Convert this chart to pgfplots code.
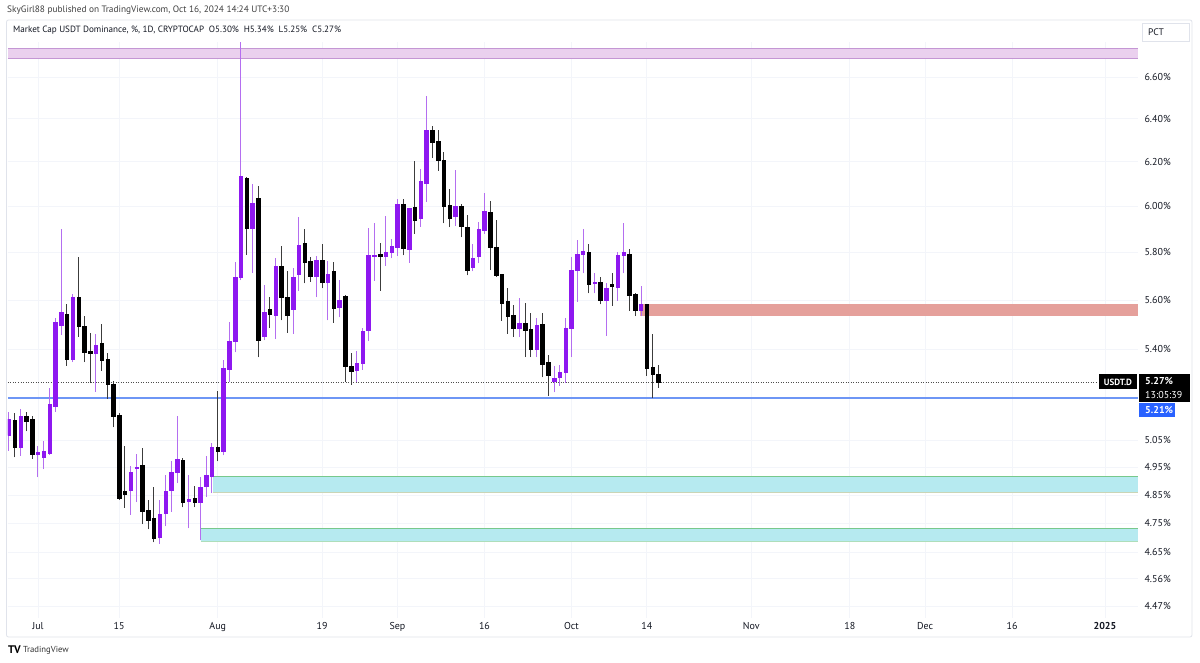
\documentclass[border=0pt]{standalone}
\usepackage{pgfplots}
\pgfplotsset{compat=1.18}
\usepackage{pgfplotstable}
\usepackage{fontspec}
\setmainfont{PT Sans}
\definecolor{candlepurple}{RGB}{142,24,240}
\definecolor{wickpurple}{RGB}{180,110,240}
\definecolor{candleblack}{RGB}{0,0,0}
\definecolor{wickblack}{RGB}{60,60,60}
\definecolor{tickc}{RGB}{19,23,34}
\definecolor{gridc}{RGB}{243,245,250}
\definecolor{zonepink}{RGB}{234,208,238}
\definecolor{zonepinkline}{RGB}{196,150,212}
\definecolor{zonered}{RGB}{229,160,155}
\definecolor{zonecyan}{RGB}{182,234,240}
\definecolor{zonecyanline}{RGB}{120,200,140}
\definecolor{tvblue}{RGB}{41,98,255}
\definecolor{lineblue}{RGB}{110,150,245}
\definecolor{panelc}{RGB}{224,227,235}

\pgfplotstableread{
d O H L C
-5 5.068 5.155 5.011 5.129
-4 5.126 5.151 4.987 5.026
-3 5.026 5.167 4.993 5.142
-2 5.142 5.155 5.083 5.120
-1 5.130 5.142 4.981 4.999
0 4.999 5.030 4.915 5.004
1 4.989 5.047 4.944 5.011
2 5.002 5.248 4.996 5.187
3 5.179 5.527 5.158 5.509
4 5.495 5.901 5.458 5.550
5 5.543 5.582 5.336 5.362
6 5.362 5.624 5.349 5.612
7 5.612 5.779 5.451 5.491
8 5.491 5.534 5.349 5.389
9 5.394 5.465 5.267 5.386
10 5.385 5.461 5.234 5.418
11 5.425 5.502 5.316 5.358
12 5.362 5.387 5.206 5.261
13 5.264 5.277 5.098 5.141
14 5.145 5.151 4.833 4.839
15 4.863 5.029 4.805 4.854
16 4.866 4.957 4.780 4.933
17 4.946 4.998 4.825 4.951
18 4.957 5.023 4.748 4.794
19 4.798 4.833 4.729 4.760
20 4.769 4.879 4.684 4.698
21 4.702 4.833 4.679 4.783
22 4.784 4.923 4.740 4.863
23 4.867 4.972 4.792 4.934
24 4.933 5.141 4.893 4.981
25 4.975 4.984 4.807 4.823
26 4.827 4.921 4.733 4.836
27 4.839 4.883 4.807 4.823
28 4.823 4.917 4.691 4.879
29 4.881 4.993 4.845 4.921
30 4.919 5.039 4.857 5.024
31 5.026 5.237 4.972 5.008
32 5.011 5.358 4.994 5.326
33 5.323 5.510 5.272 5.434
34 5.434 5.757 5.388 5.694
35 5.693 6.770 5.683 6.136
36 6.126 6.130 5.789 5.906
37 5.906 6.099 5.714 6.013
38 6.036 6.092 5.368 5.438
39 5.452 5.662 5.436 5.550
40 5.562 5.611 5.487 5.541
41 5.538 5.778 5.441 5.742
42 5.742 5.827 5.516 5.610
43 5.611 5.722 5.467 5.538
44 5.563 5.732 5.462 5.694
45 5.707 5.952 5.639 5.832
46 5.839 5.900 5.669 5.757
47 5.764 5.779 5.676 5.697
48 5.698 5.785 5.612 5.768
49 5.768 5.836 5.648 5.672
50 5.674 5.762 5.516 5.707
51 5.721 5.761 5.507 5.566
52 5.570 5.683 5.529 5.600
53 5.614 5.621 5.273 5.334
54 5.332 5.385 5.261 5.315
55 5.319 5.395 5.271 5.345
56 5.345 5.485 5.319 5.474
57 5.478 5.906 5.433 5.786
58 5.784 5.928 5.681 5.788
59 5.794 5.840 5.638 5.782
60 5.785 5.958 5.742 5.802
61 5.800 5.856 5.775 5.827
62 5.824 6.033 5.785 6.009
63 6.008 6.033 5.787 5.817
64 5.813 5.995 5.755 5.993
65 5.994 6.204 5.881 5.940
66 5.949 6.166 5.911 6.110
67 6.103 6.508 6.020 6.344
68 6.344 6.366 6.217 6.292
69 6.293 6.346 6.160 6.209
70 6.209 6.244 5.926 6.002
71 6.006 6.076 5.909 5.946
72 5.955 6.162 5.914 5.999
73 5.999 6.011 5.865 5.911
74 5.910 5.962 5.703 5.725
75 5.735 5.835 5.719 5.775
76 5.782 5.931 5.754 5.901
77 5.897 6.058 5.881 5.978
78 5.974 6.024 5.725 5.820
79 5.822 5.940 5.696 5.701
80 5.708 5.710 5.515 5.586
81 5.596 5.649 5.462 5.534
82 5.538 5.579 5.451 5.485
83 5.485 5.607 5.449 5.505
84 5.505 5.586 5.369 5.475
85 5.481 5.545 5.369 5.402
86 5.402 5.527 5.369 5.498
87 5.502 5.548 5.289 5.342
88 5.347 5.378 5.218 5.296
89 5.273 5.336 5.232 5.287
90 5.289 5.339 5.257 5.308
91 5.308 5.525 5.269 5.485
92 5.485 5.780 5.369 5.725
93 5.725 5.853 5.593 5.793
94 5.793 5.900 5.711 5.803
95 5.800 5.835 5.628 5.666
96 5.670 5.714 5.628 5.673
97 5.673 5.697 5.582 5.600
98 5.597 5.669 5.454 5.649
99 5.666 5.711 5.576 5.658
100 5.653 5.803 5.597 5.786
101 5.786 5.926 5.711 5.800
102 5.793 5.813 5.556 5.621
103 5.624 5.628 5.534 5.556
104 5.556 5.658 5.534 5.583
105 5.583 5.585 5.296 5.326
106 5.330 5.462 5.209 5.300
107 5.300 5.340 5.250 5.270
}\candles

\begin{document}
\begin{tikzpicture}
\useasboundingbox (0pt,0pt) rectangle (1200pt,663pt);
\fill[white] (0pt,0pt) rectangle (1200pt,663pt);
\draw[panelc, line width=0.8pt, rounded corners=2pt] (6.5pt,26pt) rectangle (1192pt,643pt);
\node[anchor=west, inner sep=0pt, text=black!75, font=\fontsize{9.3}{11}\selectfont] at (7pt,653pt) {SkyGirl88 published on TradingView.com, Oct 16, 2024 14:24 UTC+3:30};
\node[anchor=west, inner sep=0pt, text=tickc, font=\fontsize{9.1}{11}\selectfont] at (13pt,633pt) {Market Cap USDT Dominance, \%, 1D, CRYPTOCAP\ \ O5.30\%\ \ H5.34\%\ \ L5.25\%\ \ C5.27\%};
\draw[panelc, fill=white] (1142pt,622pt) rectangle (1189pt,640pt);
\node[anchor=west, inner sep=0pt, text=tickc, font=\fontsize{9.5}{11}\selectfont] at (1148pt,631pt) {PCT};
\node[anchor=west, inner sep=0pt, text=black, font=\fontsize{11}{12}\selectfont\bfseries] at (8pt,13pt) {TV};
\node[anchor=west, inner sep=0pt, text=black!80, font=\fontsize{8.7}{10}\selectfont] at (23pt,13pt) {TradingView};

\pgfplotstablegetrowsof{\candles}
\pgfmathtruncatemacro{\lastrow}{\pgfplotsretval-1}

\begin{axis}[
  at={(8pt,45pt)}, anchor=south west,
  scale only axis, width=1130pt, height=576pt,
  xmin=-5.17, xmax=189.7,
  ymode=log, ymin=4.4306, ymax=6.7724,
  axis line style={draw=none},
  major tick length=0pt,
  minor tick num=0,
  xtick={0,14,31,49,62,77,92,105,123,140,153,168,184},
  xticklabels={Jul,15,Aug,19,Sep,16,Oct,14,Nov,18,Dec,16,\textbf{2025}},
  ytick={4.47,4.56,4.65,4.75,4.85,4.95,5.05,5.40,5.60,5.80,6.00,6.20,6.40,6.60},
  yticklabels={4.47\%,4.56\%,4.65\%,4.75\%,4.85\%,4.95\%,5.05\%,5.40\%,5.60\%,5.80\%,6.00\%,6.20\%,6.40\%,6.60\%},
  yticklabel pos=right,
  xmajorgrids, ymajorgrids,
  major grid style={draw=gridc, line width=0.8pt},
  tick label style={font=\fontsize{10}{12}\selectfont, text=tickc},
  yticklabel style={anchor=west, xshift=3pt},
  xticklabel style={anchor=north, yshift=-1pt},
]
% zones
\addplot[forget plot, fill=zonepink, draw=none] coordinates {(-5.17,6.692) (189.7,6.692) (189.7,6.741) (-5.17,6.741)} -- cycle;
\addplot[forget plot, draw=zonepinkline, line width=0.8pt] coordinates {(-5.17,6.692) (189.7,6.692)};
\addplot[forget plot, draw=zonepinkline, line width=0.8pt] coordinates {(-5.17,6.741) (189.7,6.741)};
\addplot[forget plot, fill=zonered, draw=none] coordinates {(103.9,5.535) (189.7,5.535) (189.7,5.583) (103.9,5.583)} -- cycle;
\addplot[forget plot, fill=zonecyan, draw=none] coordinates {(30.1,4.859) (189.7,4.859) (189.7,4.917) (30.1,4.917)} -- cycle;
\addplot[forget plot, draw=zonecyanline, line width=0.8pt] coordinates {(30.1,4.917) (189.7,4.917)};
\addplot[forget plot, draw=zonecyanline!60!brown!50, line width=0.8pt] coordinates {(30.1,4.859) (189.7,4.859)};
\addplot[forget plot, fill=zonecyan, draw=none] coordinates {(28.1,4.687) (189.7,4.687) (189.7,4.733) (28.1,4.733)} -- cycle;
\addplot[forget plot, draw=zonecyanline, line width=0.8pt] coordinates {(28.1,4.733) (189.7,4.733)};
\addplot[forget plot, draw=zonecyanline!60, line width=0.8pt] coordinates {(28.1,4.687) (189.7,4.687)};
% reference lines
\addplot[forget plot, draw=lineblue, line width=1.4pt] coordinates {(-5.17,5.21) (189.7,5.21)};
\addplot[forget plot, draw=black!70, line width=0.8pt, dash pattern=on 1pt off 1.5pt] coordinates {(-5.17,5.27) (182.8,5.27)};
% candles
\pgfplotsforeachungrouped \rowi in {0,...,\lastrow}{%
  \pgfplotstablegetelem{\rowi}{d}\of\candles \let\cd\pgfplotsretval
  \pgfplotstablegetelem{\rowi}{O}\of\candles \let\cO\pgfplotsretval
  \pgfplotstablegetelem{\rowi}{H}\of\candles \let\cH\pgfplotsretval
  \pgfplotstablegetelem{\rowi}{L}\of\candles \let\cL\pgfplotsretval
  \pgfplotstablegetelem{\rowi}{C}\of\candles \let\cC\pgfplotsretval
  \pgfmathsetmacro\xa{\cd-0.3}%
  \pgfmathsetmacro\xb{\cd+0.3}%
  \ifdim\cC pt<\cO pt \def\bc{candleblack}\def\wc{wickblack}\else\def\bc{candlepurple}\def\wc{wickpurple}\fi
  \edef\temp{\noexpand\addplot[forget plot, draw=\wc, line width=1pt] coordinates {(\cd,\cL) (\cd,\cH)};
  \noexpand\addplot[forget plot, fill=\bc, draw=\bc, line width=0.6pt] coordinates {(\xa,\cO) (\xb,\cO) (\xb,\cC) (\xa,\cC)} -- cycle;}%
  \temp
}
\end{axis}
% price labels
\fill[black] (1099pt,273.5pt) rectangle (1137pt,288.5pt);
\node[anchor=center, inner sep=0pt, text=white, font=\fontsize{9}{10}\selectfont\bfseries] at (1118pt,281pt) {USDT.D};
\fill[black] (1139pt,261pt) rectangle (1190pt,289pt);
\node[anchor=west, inner sep=0pt, text=white, font=\fontsize{10}{11}\selectfont\bfseries] at (1145pt,281.5pt) {5.27\%};
\node[anchor=west, inner sep=0pt, text=white, font=\fontsize{10}{11}\selectfont] at (1145pt,268pt) {13:05:39};
\fill[tvblue] (1139pt,246pt) rectangle (1175pt,260pt);
\node[anchor=west, inner sep=0pt, text=white, font=\fontsize{10}{11}\selectfont\bfseries] at (1145pt,253pt) {5.21\%};
\end{tikzpicture}
\end{document}
